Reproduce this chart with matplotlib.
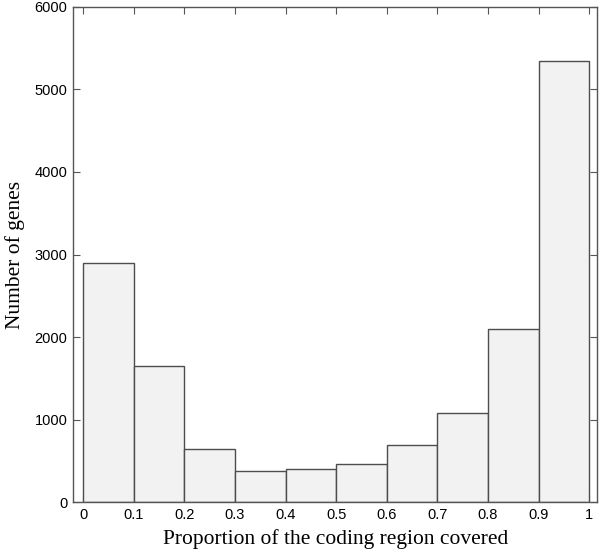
import numpy as np
import matplotlib.pyplot as plt

# histogram of coverage proportion, bins of 0.1
bin_edges = [0.0, 0.1, 0.2, 0.3, 0.4, 0.5, 0.6, 0.7, 0.8, 0.9, 1.0]
counts = [2900, 1650, 645, 385, 400, 468, 690, 1077, 2097, 5341]
xticks = [0, 0.1, 0.2, 0.3, 0.4, 0.5, 0.6, 0.7, 0.8, 0.9, 1]
xtick_labels = ['0', '0.1', '0.2', '0.3', '0.4', '0.5', '0.6', '0.7', '0.8', '0.9', '1']
yticks = [0, 1000, 2000, 3000, 4000, 5000, 6000]

fig = plt.figure(figsize=(6, 5.53), dpi=100)
ax = fig.add_axes([0.1217, 0.0915, 0.8741, 0.8964])

lefts = np.array(bin_edges[:-1])
widths = np.diff(bin_edges)
ax.bar(lefts, counts, width=widths, align='edge', color='#f2f2f2',
       edgecolor='#4d4d4d', linewidth=1.0, zorder=2)

ax.set_xlim(-0.0204, 1.0166)
ax.set_ylim(0, 6000)
ax.set_xticks(xticks)
ax.set_xticklabels(xtick_labels)
ax.set_yticks(yticks)

ax.tick_params(direction='in', length=5, width=0.8, color='#555555',
               top=True, right=True, labelsize=10.5, pad=4)
for lab in ax.get_xticklabels() + ax.get_yticklabels():
    lab.set_family('Liberation Sans')
for sp in ax.spines.values():
    sp.set_color('#555555')
    sp.set_linewidth(1.0)

ax.set_xlabel('Proportion of the coding region covered', family='Liberation Serif',
              fontsize=15.5, labelpad=5)
ax.set_ylabel('Number of genes', family='Liberation Serif', fontsize=15.5, labelpad=7)

fig.savefig('out.png', dpi=100)
